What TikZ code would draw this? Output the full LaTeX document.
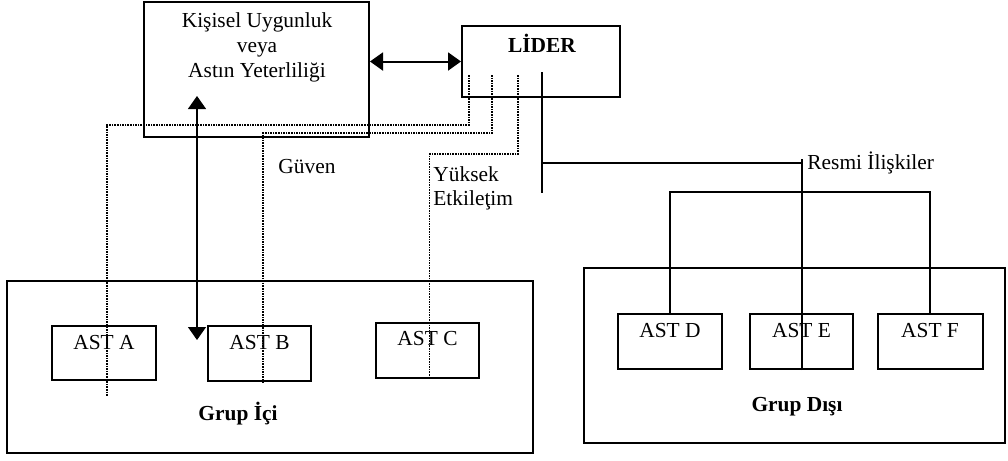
\documentclass[tikz,border=0pt]{standalone}
\usepackage{fontspec}
\setmainfont{Liberation Serif}
\usetikzlibrary{arrows.meta,calc}
\begin{document}
\begin{tikzpicture}[x=0.5pt,y=-0.5pt,
 box/.style={draw,line width=1pt,inner sep=0pt,rectangle},
 txt/.style={font=\fontsize{10.7}{12.5}\selectfont,inner sep=0pt},
 btxt/.style={font=\fontsize{10.7}{12.5}\selectfont\bfseries,inner sep=0pt},
 dots/.style={line width=0.55pt,dash pattern=on 0.8pt off 0.5pt},
 solidln/.style={line width=1pt},
 tri/.tip={Triangle[length=6.5pt,width=9pt]}
]
\useasboundingbox (0,0) rectangle (1008,461);
% main boxes
\node[box,minimum width=112.5pt,minimum height=67.5pt] (K) at (256.5,69.5) {};
\node[box,minimum width=79pt,minimum height=35.5pt] (L) at (541,61.5) {};
\node[box,minimum width=263pt,minimum height=86pt] (GI) at (270,367) {};
\node[box,minimum width=210.5pt,minimum height=87.5pt] (GD) at (794.5,355.5) {};
% subordinate boxes
\node[box,minimum width=52pt,minimum height=27pt] (A) at (104,353) {};
\node[box,minimum width=51.5pt,minimum height=27.5pt] (B) at (259.5,353.5) {};
\node[box,minimum width=51.5pt,minimum height=27.5pt] (C) at (427.5,350.5) {};
\node[box,minimum width=52pt,minimum height=27.5pt] (D) at (670,341.5) {};
\node[box,minimum width=51.5pt,minimum height=27.5pt] (E) at (801.5,341.5) {};
\node[box,minimum width=52.5pt,minimum height=27.5pt] (F) at (930,341.5) {};
% texts
\node[txt,align=center] (Kt) at (257,47) {Kişisel Uygunluk\\veya\\Astın Yeterliliği};
\node[btxt] (Lt) at (542,43) {LİDER};
\node[txt] (At) at ($(A.north)+(0,18)$) {AST A};
\node[txt] (Bt) at ($(B.north)+(0,18)$) {AST B};
\node[txt] (Ct) at ($(C.north)+(0,17)$) {AST C};
\node[txt] (Dt) at ($(D.north)+(0,18)$) {AST D};
\node[txt] (Et) at ($(E.north)+(0,18)$) {AST E};
\node[txt] (Ft) at ($(F.north)+(0,18)$) {AST F};
\node[btxt] (GIt) at (238,414) {Grup İçi};
\node[btxt] (GDt) at (797,407) {Grup Dışı};
\node[txt] (guv) at (307,167) {Güven};
\node[txt,align=left,anchor=west,font=\fontsize{10.7}{12}\selectfont] (yuk) at (433,188) {Yüksek\\Etkileţim};
\node[txt,anchor=west] (res) at (807,163) {Resmi İlişkiler};
% connector ends
\coordinate (l1) at (469,75);
\coordinate (l2) at (492,75);
\coordinate (l3) at (518,75);
\coordinate (ls) at (542,72);
\coordinate (aend) at (107,396);
\coordinate (ka) at (197,96);
\coordinate (kb) at (197,340);
% dotted connectors
\draw[dots] (l1) -- ++(0,50) -| (aend);
\draw[dots] (l2) -- ++(0,58) -| ($(B.south)+(3.5,0)$);
\draw[dots] (l3) -- ++(0,79) -| ($(C.south)+(2,0)$);
% solid formal relations
\draw[solidln] (ls) -- ++(0,121);
\draw[solidln] ($(ls)+(0,91)$) -| (E.south);
\draw[solidln] (E.south) -- ++(0,-211);
\draw[solidln] (D.north) -- ++(0,-121) -| (F.north);
% arrows
\draw[line width=0.6pt,tri-tri] (ka) -- (kb);
\draw[line width=1pt,tri-tri] (K.east |- L.west) -- (L.west);
\end{tikzpicture}
\end{document}
